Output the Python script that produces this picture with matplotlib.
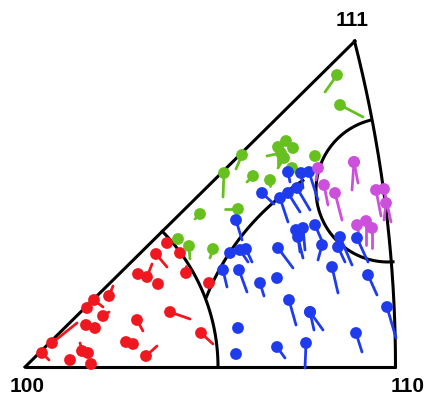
import numpy as np
import matplotlib
matplotlib.use("Agg")
import matplotlib.pyplot as plt

# pole positions (image pixel space): head x, head y, tail end x, tail end y
red = np.array([
    [42, 353, 49, 360], [52, 343, 77, 323], [70, 360, 70, 360], [82, 351, 80, 343],
    [88, 353, 88, 353], [91, 364, 91, 364], [86, 325, 86, 325], [95, 328, 95, 328],
    [87, 308, 87, 308], [94, 300, 103, 307], [109, 296, 113, 286], [103, 316, 109, 312],
    [137, 320, 143, 331], [126, 342, 126, 342], [133, 344, 133, 344], [146, 356, 157, 346],
    [170, 312, 190, 319], [201, 333, 213, 344], [138, 274, 138, 274], [147, 277, 152, 264],
    [158, 284, 158, 284], [156, 254, 167, 267], [167, 243, 167, 243], [180, 253, 180, 253],
    [186, 273, 186, 266], [209, 283, 209, 283],
])
green = np.array([
    [337, 75, 325, 92], [340, 105, 363, 117], [242, 155, 236, 169], [224, 173, 223, 197],
    [253, 176, 247, 182], [270, 180, 270, 186], [278, 147, 278, 165], [286, 141, 286, 141],
    [293, 148, 293, 148], [281, 153, 267, 156], [284, 158, 278, 168], [292, 168, 292, 168],
    [315, 156, 315, 156], [238, 209, 225, 209], [200, 214, 195, 219], [178, 239, 178, 239],
    [189, 246, 190, 259], [213, 249, 210, 258],
])
blue = np.array([
    [288, 172, 290, 182], [301, 173, 303, 188], [309, 172, 318, 200], [262, 193, 274, 204],
    [280, 198, 288, 222], [288, 193, 300, 212], [297, 188, 310, 210], [315, 225, 322, 241],
    [236, 220, 242, 240], [230, 253, 230, 253], [240, 250, 248, 262], [246, 249, 252, 262],
    [223, 270, 227, 287], [239, 270, 247, 292], [260, 283, 264, 296], [277, 278, 277, 278],
    [278, 248, 293, 268], [296, 230, 303, 258], [303, 228, 305, 250], [298, 237, 300, 252],
    [322, 245, 318, 260], [332, 267, 338, 293], [340, 237, 352, 265], [338, 247, 345, 262],
    [357, 238, 368, 262], [368, 275, 377, 295], [387, 307, 396, 338], [289, 300, 296, 325],
    [310, 312, 323, 330], [310, 312, 314, 330], [238, 328, 238, 328], [236, 354, 236, 354],
    [277, 347, 285, 358], [306, 343, 305, 368], [356, 333, 362, 352],
])
magenta = np.array([
    [354, 162, 352, 190], [354, 162, 358, 183], [318, 168, 316, 180], [324, 185, 328, 205],
    [335, 193, 342, 220], [376, 190, 381, 216], [384, 189, 391, 222], [386, 203, 384, 220],
    [357, 225, 360, 240], [366, 221, 366, 245], [372, 228, 372, 248],
])
corner_labels = ["100", "110", "111"]

fig = plt.figure(figsize=(4.24, 3.96), dpi=100)
ax = fig.add_axes([0, 0, 1, 1])
ax.set_xlim(0, 424)
ax.set_ylim(396, 0)
ax.axis("off")

p100 = (25, 367)
p110 = (396, 367)
p111 = (355, 41)
lw = 2.2

# straight edges
ax.plot([p100[0], p110[0]], [p100[1], p110[1]], color="k", lw=lw, solid_capstyle="butt")
ax.plot([p100[0], p111[0]], [p100[1], p111[1]], color="k", lw=lw)

# curved 110-111 edge
cx, cy, R = -920.5, 367, 1316
yy = np.linspace(p111[1], p110[1], 200)
ax.plot(cx + np.sqrt(R**2 - (yy - cy)**2), yy, color="k", lw=lw)

# arc around 100
t = np.radians(np.linspace(0, -44.65, 100))
ax.plot(25 + 193 * np.cos(t), 367 + 193 * np.sin(t), color="k", lw=lw)

# middle arc
c2x, c2y, R2 = 435, 388, 246
a0 = np.arctan2(296 - c2y, 205 - c2x)
a1 = np.arctan2(176 - c2y, 300 - c2x)
t = np.linspace(a0, a1, 100)
ax.plot(c2x + R2 * np.cos(t), c2y + R2 * np.sin(t), color="k", lw=lw)

# small circle near 110-111 edge
t = np.radians(np.linspace(-104, -274, 150))
ax.plot(388 + 72 * np.cos(t), 190 + 72 * np.sin(t), color="k", lw=lw)

groups = [(red, "#f01820"), (green, "#66c01e"), (blue, "#1e3cee"), (magenta, "#cc50dc")]
for data, col in groups:
    for x, y, tx, ty in data:
        ax.plot([x, tx], [y, ty], color=col, lw=2.0, solid_capstyle="round", zorder=3)
    ax.scatter(data[:, 0], data[:, 1], s=72, color=col, edgecolors="none", zorder=4)

font = dict(fontsize=15, fontweight="bold", family="Liberation Sans", ha="center", va="center")
ax.text(27, 386, corner_labels[0], **font)
ax.text(408, 386, corner_labels[1], **font)
ax.text(352, 20, corner_labels[2], **font)

fig.savefig("out.png", dpi=100)
